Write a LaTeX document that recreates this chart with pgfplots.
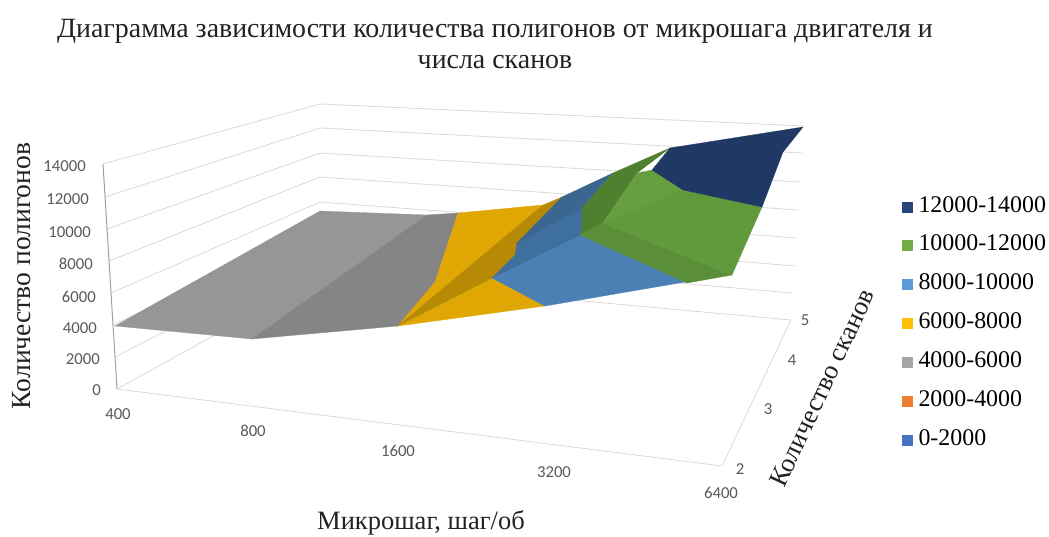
\documentclass[border=0pt]{standalone}
\usepackage{fontspec}
\setmainfont{Liberation Serif}
\newfontfamily\tickfont{Carlito}
\usepackage{pgfplots}
\pgfplotsset{compat=1.18}

\definecolor{gridc}{HTML}{D9D9D9}
\definecolor{axisc}{HTML}{A0A0A0}
\definecolor{tickc}{HTML}{595959}
\definecolor{txtc}{HTML}{222222}
\definecolor{grayA}{HTML}{969696}
\definecolor{grayB}{HTML}{858585}
\definecolor{yelA}{HTML}{DFA604}
\definecolor{yelB}{HTML}{B78A06}
\definecolor{bluA}{HTML}{4A80B4}
\definecolor{bluB}{HTML}{3F6F9D}
\definecolor{bluC}{HTML}{3A6690}
\definecolor{grnA}{HTML}{619A3C}
\definecolor{grnB}{HTML}{5A8E38}
\definecolor{grnC}{HTML}{669F40}
\definecolor{grnD}{HTML}{4F8030}
\definecolor{navy}{HTML}{1F3864}

\newcommand{\ttl}{\fontsize{28}{31}\selectfont}
\newcommand{\lgd}{\fontsize{24}{28}\selectfont}
\newcommand{\tck}{\tickfont\fontsize{16.8}{20}\selectfont}

\pgfplotsset{
  facet/.style={forget plot, fill=#1, draw=#1, line width=0.3pt},
  gl/.style={forget plot, gridc, line width=0.8pt},
}

\begin{document}
\begin{tikzpicture}
\begin{axis}[
    name=a,
    scale only axis, width=1049bp, height=536bp,
    xmin=0, xmax=1049, ymin=0, ymax=536, y dir=reverse,
    hide axis, clip=false,
    legend style={draw=none, fill=none, at={(axis cs:902,193)}, anchor=north west,
      font=\lgd, row sep=10.9bp, inner sep=0pt, outer sep=0pt,
      nodes={inner xsep=5.5bp, inner ysep=0pt, text height=19bp, text depth=9bp}},
    legend cell align=left,
    legend image code/.code={\fill[#1, draw=none] (0bp,-5.5bp) rectangle (11bp,5.5bp);},
]
% projected 3D chart: everything is in the picture's pixel coordinates
% left wall
\addplot[gl] coordinates {(115,357) (320,252)};
\addplot[gl] coordinates {(113,325) (320,227)};
\addplot[gl] coordinates {(111,293) (320,202)};
\addplot[gl] coordinates {(109,261) (320,177)};
\addplot[gl] coordinates {(107,229) (320,153)};
\addplot[gl] coordinates {(105,197) (320,128)};
\addplot[gl] coordinates {(103,164) (320,104)};
% back wall
\addplot[gl] coordinates {(320,252) (793,293)};
\addplot[gl] coordinates {(320,227) (795,266)};
\addplot[gl] coordinates {(320,202) (797,238)};
\addplot[gl] coordinates {(320,177) (798,210)};
\addplot[gl] coordinates {(320,153) (800,182)};
\addplot[gl] coordinates {(320,128) (802,153)};
\addplot[gl] coordinates {(320,104) (804,126)};
% floor
\addplot[gl] coordinates {(117,389) (320,277) (791,320) (722,466) (117,389)};
\addplot[forget plot, axisc, line width=1pt] coordinates {(103,164) (117,389)};

% surface
\addplot[facet=grayA] coordinates {(115,326) (320,211) (427,215) (252,339)} -- cycle;
\addplot[facet=grayB] coordinates {(252,339) (427,215) (458,213) (448,243) (435,282) (398,326)} -- cycle;
\addplot[facet=yelA] coordinates {(458,213) (543,205) (398,326) (435,282) (448,243)} -- cycle;
\addplot[facet=yelA] coordinates {(398,326) (492,278) (545,306)} -- cycle;
\addplot[facet=yelB] coordinates {(398,326) (543,205) (562,197) (517,243) (515,255) (492,278)} -- cycle;
\addplot[facet=bluA] coordinates {(492,278) (580,234) (685,282) (545,306)} -- cycle;
\addplot[facet=bluB] coordinates {(492,278) (515,255) (517,243) (582,208) (582,230) (580,235)} -- cycle;
\addplot[facet=bluC] coordinates {(517,243) (562,197) (613,173) (582,208)} -- cycle;
\addplot[facet=grnD] coordinates {(582,208) (613,173) (670,148) (637,173) (603,223) (580,235) (582,230)} -- cycle;
\addplot[facet=grnB] coordinates {(580,235) (603,223) (732,275) (687,283)} -- cycle;
\addplot[facet=grnA] coordinates {(603,223) (675,192) (683,190) (762,207) (732,275)} -- cycle;
\addplot[facet=grnC] coordinates {(603,223) (637,173) (652,170) (683,190) (675,192)} -- cycle;
\addplot[facet=navy] coordinates {(670,148) (803,127) (783,152) (762,207) (683,190) (652,170)} -- cycle;

% legend
\addlegendimage{fill={rgb,255:red,38;green,68;blue,120}}\addlegendentry{12000-14000}
\addlegendimage{fill={rgb,255:red,112;green,173;blue,71}}\addlegendentry{10000-12000}
\addlegendimage{fill={rgb,255:red,91;green,155;blue,213}}\addlegendentry{8000-10000}
\addlegendimage{fill={rgb,255:red,255;green,192;blue,0}}\addlegendentry{6000-8000}
\addlegendimage{fill={rgb,255:red,165;green,165;blue,165}}\addlegendentry{4000-6000}
\addlegendimage{fill={rgb,255:red,237;green,125;blue,49}}\addlegendentry{2000-4000}
\addlegendimage{fill={rgb,255:red,68;green,114;blue,196}}\addlegendentry{0-2000}

% text
\node[font=\ttl, text=txtc, align=center] at (axis cs:495,44)
  {Диаграмма зависимости количества полигонов от микрошага двигателя и\\числа сканов};
\node[font=\fontsize{27.7}{31}\selectfont, text=txtc, rotate=90] at (axis cs:22,276) {Количество полигонов};
\node[font=\fontsize{26.7}{30}\selectfont, text=txtc, rotate=65] at (axis cs:822,388) {Количество сканов};
\node[font=\fontsize{26.6}{30}\selectfont, text=txtc] at (axis cs:421,523) {Микрошаг, шаг/об};

\node[font=\tck, text=tickc, anchor=east, inner xsep=0pt] at (axis cs:86,166) {14000};
\node[font=\tck, text=tickc, anchor=east, inner xsep=0pt] at (axis cs:89,199) {12000};
\node[font=\tck, text=tickc, anchor=east, inner xsep=0pt] at (axis cs:91,232) {10000};
\node[font=\tck, text=tickc, anchor=east, inner xsep=0pt] at (axis cs:93,264) {8000};
\node[font=\tck, text=tickc, anchor=east, inner xsep=0pt] at (axis cs:96,297) {6000};
\node[font=\tck, text=tickc, anchor=east, inner xsep=0pt] at (axis cs:97,328) {4000};
\node[font=\tck, text=tickc, anchor=east, inner xsep=0pt] at (axis cs:100,359) {2000};
\node[font=\tck, text=tickc, anchor=east, inner xsep=0pt] at (axis cs:101,390) {0};
\node[font=\tck, text=tickc] at (axis cs:118,414) {400};
\node[font=\tck, text=tickc] at (axis cs:253,431) {800};
\node[font=\tck, text=tickc] at (axis cs:398,451) {1600};
\node[font=\tck, text=tickc] at (axis cs:554,472) {3200};
\node[font=\tck, text=tickc] at (axis cs:721,493) {6400};
\node[font=\tck, text=tickc] at (axis cs:740,469) {2};
\node[font=\tck, text=tickc] at (axis cs:768,409) {3};
\node[font=\tck, text=tickc] at (axis cs:792,360) {4};
\node[font=\tck, text=tickc] at (axis cs:805,320) {5};
\end{axis}
\pgfresetboundingbox
\path[use as bounding box] (a.south west) rectangle (a.north east);
\end{tikzpicture}
\end{document}
